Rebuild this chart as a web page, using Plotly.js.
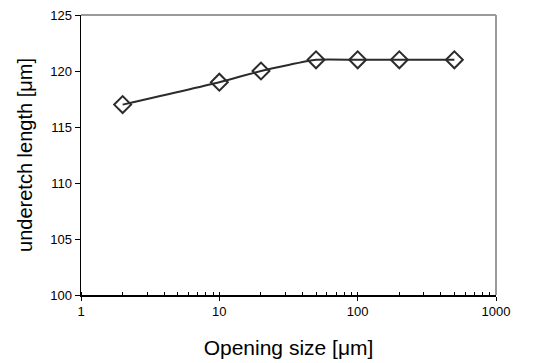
<!DOCTYPE html>
<html><head><meta charset="utf-8">
<script src="https://cdn.plot.ly/plotly-3.0.1.min.js"></script>
<style>html,body{margin:0;padding:0;background:#fff}#c{width:534px;height:363px}</style>
</head><body><div id="c"></div>
<script>
const openingSize = [2, 10, 20, 50, 100, 200, 500];
const underetch = [117, 119, 120, 121, 121, 121, 121];
const xTicks = [1, 10, 100, 1000];
const yTicks = [100, 105, 110, 115, 120, 125];

const font = {family: 'Liberation Sans, Arial, sans-serif', color: '#000'};
Plotly.newPlot('c', [{
  x: openingSize, y: underetch, type: 'scatter', mode: 'lines+markers',
  line: {color: '#2b2b2b', width: 2, shape: 'spline', smoothing: 0.5},
  marker: {symbol: 'diamond-open', size: 13, color: '#2b2b2b', line: {width: 2, color: '#2b2b2b'}},
  cliponaxis: false
}], {
  width: 534, height: 363,
  margin: {l: 81, r: 38, t: 15, b: 68},
  paper_bgcolor: '#fff', plot_bgcolor: '#fff',
  showlegend: false,
  font: Object.assign({size: 13}, font),
  xaxis: {
    type: 'log', range: [0, 3], tickvals: xTicks, ticktext: xTicks.map(String),
    showgrid: false, zeroline: false, showline: true, linecolor: '#000', linewidth: 1.5,
    ticks: 'outside', ticklen: 4, tickwidth: 1, tickcolor: '#000',
    minor: {ticks: 'inside', dtick: 'D1', ticklen: 3, tickwidth: 1, tickcolor: '#000', showgrid: false},
    tickfont: {size: 13},
    title: {text: 'Opening size [μm]', font: {size: 21}, standoff: 22}
  },
  xaxis2: {
    type: 'log', range: [0, 3], overlaying: 'x', anchor: 'y', side: 'bottom',
    tickvals: xTicks, showticklabels: false, showgrid: false, zeroline: false, showline: false,
    ticks: 'inside', ticklen: 3, tickwidth: 1, tickcolor: '#000'
  },
  yaxis: {
    range: [100, 125], tickvals: yTicks, ticktext: yTicks.map(String),
    showgrid: false, zeroline: false, showline: true, linecolor: '#000', linewidth: 1.5,
    ticks: 'outside', ticklen: 5, tickwidth: 1, tickcolor: '#000',
    tickfont: {size: 13},
    title: {text: 'underetch length [μm]', font: {size: 20}, standoff: 12}
  },
  shapes: [
    {type: 'line', xref: 'x domain', yref: 'y domain', x0: 0, x1: 1, y0: 1, y1: 1, line: {color: '#9a9a9a', width: 2}},
    {type: 'line', xref: 'x domain', yref: 'y domain', x0: 1, x1: 1, y0: 0, y1: 1, line: {color: '#9a9a9a', width: 2}}
  ]
}, {displayModeBar: false, staticPlot: true});
</script></body></html>
